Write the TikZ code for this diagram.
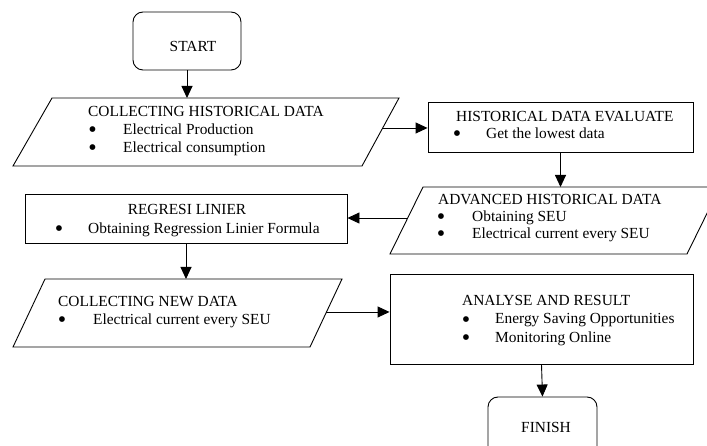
\documentclass[tikz,border=0pt]{standalone}
\usepackage{fontspec}
\setmainfont{Liberation Serif}
\usetikzlibrary{calc,arrows.meta}
\begin{document}
\begin{tikzpicture}[x=1pt,y=-1pt,
  font=\fontsize{15.4}{17}\selectfont,
  outline/.style={draw=black,line width=0.9pt},
  box/.style={outline,rectangle,inner sep=0pt},
  term/.style={box,rounded corners=10pt},
  arr/.style={draw=black,line width=0.9pt,-{Triangle[length=12pt,width=11pt]}},
  lbl/.style={inner sep=0pt,anchor=base west},
  dot/.style={inner sep=0pt,anchor=base,yshift=-3pt,font=\fontsize{24}{24}\selectfont},
  mid/.style={inner sep=0pt,anchor=base}]
\useasboundingbox (0,0) rectangle (707,446);
\clip (0,0) rectangle (707,446);

% terminals and process boxes
\node[term,minimum width=108pt,minimum height=58pt] (start) at (187,41) {};
\node[mid] (startt) at (193,52) {START};
\node[box,minimum width=265pt,minimum height=50pt] (hde) at (560.5,127) {};
\node[box,minimum width=322pt,minimum height=49pt] (reg) at (186,218.5) {};
\node[box,minimum width=303pt,minimum height=90pt] (ana) at (541.5,319) {};
\node[term,minimum width=109pt,minimum height=80pt] (fin) at (542.5,437) {};
\node[mid] (fint) at (546,432) {FINISH};

% data (parallelogram) shapes
\coordinate (p1bl) at (13,166);  \coordinate (p1tl) at (52,98);
\coordinate (p1tr) at (399,98);  \coordinate (p1br) at (362,166);
\draw[outline] (p1bl) -- (p1tl) -- (p1tr) -- (p1br) -- cycle;
\coordinate (p2bl) at (390,254); \coordinate (p2tl) at (423,187);
\coordinate (p2tr) at (720,187); \coordinate (p2br) at (687,254);
\draw[outline] (p2bl) -- (p2tl) -- (p2tr) -- (p2br) -- cycle;
\coordinate (p3bl) at (13,347);  \coordinate (p3tl) at (45,279);
\coordinate (p3tr) at (342,279); \coordinate (p3br) at (310,347);
\draw[outline] (p3bl) -- (p3tl) -- (p3tr) -- (p3br) -- cycle;

% texts
\node[lbl] (p1h) at (88,117) {COLLECTING HISTORICAL DATA};
\node[dot] (p1d1) at (92.5,135) {\smash{•}};
\node[lbl] (p1i1) at (123,135) {Electrical Production};
\node[dot] (p1d2) at (92.5,152.5) {\smash{•}};
\node[lbl] (p1i2) at (123,152.5) {Electrical consumption};

\node[lbl] (hdeh) at (456,122) {HISTORICAL DATA EVALUATE};
\node[dot] (hded) at (457,139) {\smash{•}};
\node[lbl] (hdei) at (486,139) {Get the lowest data};

\node[lbl] (p2h) at (438,205) {ADVANCED HISTORICAL DATA};
\node[dot] (p2d1) at (441,222) {\smash{•}};
\node[lbl] (p2i1) at (472,222) {Obtaining SEU};
\node[dot] (p2d2) at (441,239) {\smash{•}};
\node[lbl] (p2i2) at (472,239) {Electrical current every SEU};

\node[mid] (regh) at (187,215) {REGRESI LINIER};
\node[dot] (regd) at (59,234) {\smash{•}};
\node[lbl] (regi) at (88,234) {Obtaining Regression Linier Formula};

\node[lbl] (p3h) at (58,307) {COLLECTING NEW DATA};
\node[dot] (p3d) at (62,325) {\smash{•}};
\node[lbl] (p3i) at (93,325) {Electrical current every SEU};

\node[lbl] (anah) at (462,306) {ANALYSE AND RESULT};
\node[dot] (anad1) at (466,324) {\smash{•}};
\node[lbl] (anai1) at (495,324) {Energy Saving Opportunities};
\node[dot] (anad2) at (466,342) {\smash{•}};
\node[lbl] (anai2) at (495,342) {Monitoring Online};

% connector end points on slanted edges
\coordinate (p1out) at ($(p1br)!0.559!(p1tr)$);
\coordinate (p2out) at ($(p2bl)!0.537!(p2tl)$);
\coordinate (p3out) at ($(p3br)!0.515!(p3tr)$);

% connectors
\draw[arr] (start.south) -- (start.south |- p1tl);
\draw[arr] (p1out) -- (p1out -| hde.west);
\draw[arr] (hde.south) -- (hde.south |- p2tl);
\draw[arr] (p2out) -- (p2out -| reg.east);
\draw[arr] (reg.south) -- (reg.south |- p3tl);
\draw[arr] (p3out) -- (p3out -| ana.west);
\draw[arr] (ana.south) -- (fin.north);
\end{tikzpicture}
\end{document}
